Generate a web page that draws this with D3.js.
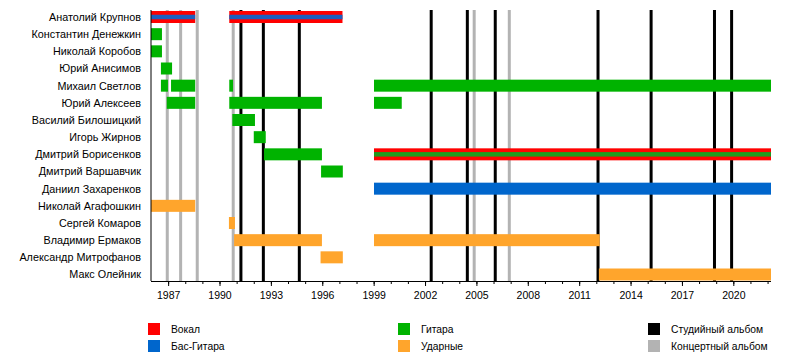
<!DOCTYPE html>
<html><head><meta charset="utf-8">
<script src="https://cdn.jsdelivr.net/npm/d3@7"></script>
<style>body{margin:0;background:#fff}svg{display:block}text{font-family:"Liberation Sans",Arial,sans-serif;fill:#000}</style>
</head><body><svg id="c" width="800" height="360"></svg>
<script>
const members = ["Анатолий Крупнов","Константин Денежкин","Николай Коробов","Юрий Анисимов","Михаил Светлов","Юрий Алексеев","Василий Билошицкий","Игорь Жирнов","Дмитрий Борисенков","Дмитрий Варшавчик","Даниил Захаренков","Николай Агафошкин","Сергей Комаров","Владимир Ермаков","Александр Митрофанов","Макс Олейник"];
const roles = ["Вокал","Бас-Гитара","Гитара","Ударные"];
const roleColors = ["#ff0000","#0066cc","#00b300","#ffa52c"];
const albumTypes = ["Студийный альбом","Концертный альбом"];
const albumColors = ["#000000","#b3b3b3"];
// [member, role, start, end, secondary role]
const periods = [
 ["Анатолий Крупнов","Вокал",1986.0,1988.58,"Бас-Гитара"],
 ["Анатолий Крупнов","Вокал",1990.57,1997.18,"Бас-Гитара"],
 ["Константин Денежкин","Гитара",1986.0,1986.64,null],
 ["Николай Коробов","Гитара",1986.0,1986.64,null],
 ["Юрий Анисимов","Гитара",1986.58,1987.23,null],
 ["Михаил Светлов","Гитара",1986.58,1986.99,null],
 ["Михаил Светлов","Гитара",1987.17,1988.58,null],
 ["Михаил Светлов","Гитара",1990.57,1990.79,null],
 ["Михаил Светлов","Гитара",1999.02,2022.2,null],
 ["Юрий Алексеев","Гитара",1986.92,1988.58,null],
 ["Юрий Алексеев","Гитара",1990.57,1995.98,null],
 ["Юрий Алексеев","Гитара",1999.02,2000.64,null],
 ["Василий Билошицкий","Гитара",1990.75,1992.07,null],
 ["Игорь Жирнов","Гитара",1992.0,1992.7,null],
 ["Дмитрий Борисенков","Гитара",1992.6,1995.98,null],
 ["Дмитрий Борисенков","Вокал",1999.02,2022.2,"Гитара"],
 ["Дмитрий Варшавчик","Гитара",1995.93,1997.2,null],
 ["Даниил Захаренков","Бас-Гитара",1999.02,2022.2,null],
 ["Николай Агафошкин","Ударные",1986.0,1988.58,null],
 ["Сергей Комаров","Ударные",1990.55,1990.9,null],
 ["Владимир Ермаков","Ударные",1990.85,1995.98,null],
 ["Владимир Ермаков","Ударные",1999.02,2012.2,null],
 ["Александр Митрофанов","Ударные",1995.9,1997.2,null],
 ["Макс Олейник","Ударные",2012.15,2022.2,null]
];
const studioAlbums = [1991.25,1992.56,1994.66,2002.36,2004.47,2006.1,2012.1,2015.2,2018.9,2019.9];
const liveAlbums = [1986.95,1987.73,1988.7,1990.8,2004.87,2006.92];
const majorTicks = [1987,1990,1993,1996,1999,2002,2005,2008,2011,2014,2017,2020];
const minorTicks = d3.range(1987,2023);
const timeDomain = [1986.0,2022.2];

const svg = d3.select("#c");
const x = d3.scaleLinear().domain(timeDomain).range([151,771]);
const y = d3.scalePoint().domain(members).range([17,274.5]);
const color = d3.scaleOrdinal().domain(roles).range(roleColors);
const barH = 12, stripeH = 4.5;
const topY = 10, axisY = 281;

// album lines
const g = svg.append("g");
g.selectAll("line.live").data(liveAlbums).join("line")
 .attr("x1",d=>x(d)).attr("x2",d=>x(d)).attr("y1",topY).attr("y2",axisY)
 .attr("stroke",albumColors[1]).attr("stroke-width",3);
g.selectAll("line.studio").data(studioAlbums).join("line")
 .attr("x1",d=>x(d)).attr("x2",d=>x(d)).attr("y1",topY).attr("y2",axisY)
 .attr("stroke",albumColors[0]).attr("stroke-width",3);

// bars
svg.append("g").selectAll("rect").data(periods).join("rect")
 .attr("x",d=>x(d[2])).attr("width",d=>x(d[3])-x(d[2]))
 .attr("y",d=>y(d[0])-barH/2).attr("height",barH)
 .attr("fill",d=>color(d[1]));
svg.append("g").selectAll("rect").data(periods.filter(d=>d[4])).join("rect")
 .attr("x",d=>x(d[2])).attr("width",d=>x(d[3])-x(d[2]))
 .attr("y",d=>y(d[0])-stripeH/2).attr("height",stripeH)
 .attr("fill",d=>d[4]==="Гитара"?"#1f9a1f":"#1d5fbf");

// labels
svg.append("g").selectAll("text").data(members).join("text")
 .attr("x",141).attr("y",d=>y(d)).attr("dy","0.36em")
 .attr("text-anchor","end").style("font-size","10.8px").text(d=>d);

// axes
svg.append("line").attr("x1",151).attr("x2",151).attr("y1",topY).attr("y2",axisY).attr("stroke","#000").attr("stroke-width",1);
const ax = svg.append("g").attr("transform",`translate(0,${axisY})`);
ax.call(d3.axisBottom(x).tickValues(minorTicks).tickSize(3).tickFormat(""));
ax.call(g2=>g2.select(".domain").remove());
const ax2 = svg.append("g").attr("transform",`translate(0,${axisY})`);
ax2.call(d3.axisBottom(x).tickValues(majorTicks).tickSize(5).tickSizeOuter(0).tickPadding(6).tickFormat(d3.format("d")));
ax2.select(".domain").attr("d",`M${x(timeDomain[0])},0.5H${x(timeDomain[1])}`);
ax2.selectAll("text").style("font-size","10.5px").style("font-family","'Liberation Sans',Arial,sans-serif");

// legend
const legendItems = [
 [roles[0],roleColors[0],148,329],[roles[1],roleColors[1],148,346],
 [roles[2],roleColors[2],398,329],[roles[3],roleColors[3],398,346],
 [albumTypes[0],albumColors[0],648,329],[albumTypes[1],albumColors[1],648,346]
];
const lg = svg.append("g").selectAll("g").data(legendItems).join("g");
lg.append("rect").attr("x",d=>d[2]).attr("y",d=>d[3]-6).attr("width",12).attr("height",12).attr("fill",d=>d[1]);
lg.append("text").attr("x",d=>d[2]+23).attr("y",d=>d[3]).attr("dy","0.36em").style("font-size","10.3px").text(d=>d[0]);
</script></body></html>
